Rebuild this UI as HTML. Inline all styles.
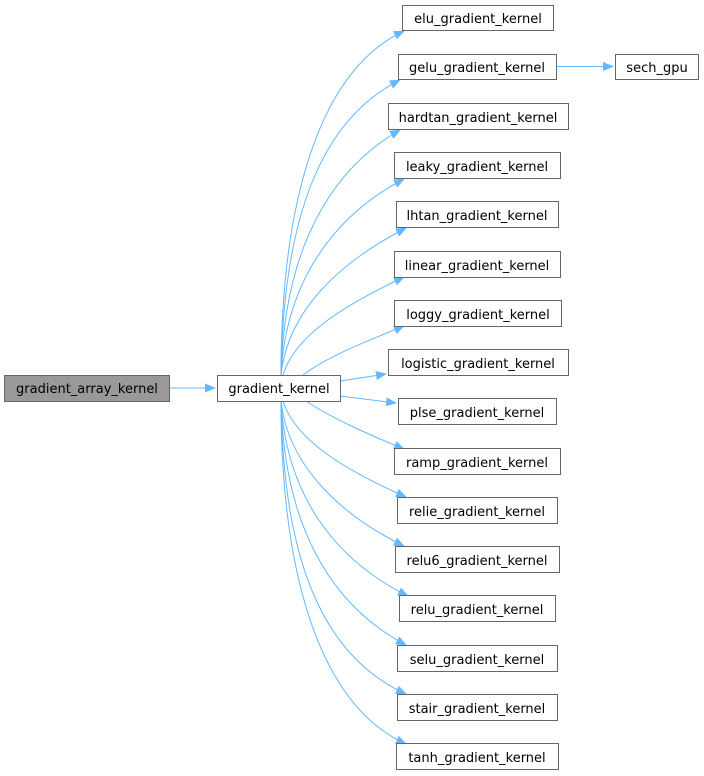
<!DOCTYPE html>
<html><head><meta charset="utf-8"><style>
html,body{margin:0;padding:0;background:#fff;width:704px;height:776px;overflow:hidden}
text{font-family:"DejaVu Sans","Liberation Sans",sans-serif;font-size:13px;fill:#000}
</style></head><body>
<svg width="704" height="776" viewBox="0 0 704 776" xmlns="http://www.w3.org/2000/svg">
<defs><marker id="a" markerWidth="11" markerHeight="9" refX="10" refY="4.5" orient="auto" markerUnits="userSpaceOnUse"><path d="M0,0 L11,4.5 L0,9 Z" fill="#63b8ff"/></marker></defs>
<g fill="none" stroke="#63b8ff" stroke-width="1">
<path d="M169,388 L215,388" marker-end="url(#a)"/>
<path d="M556,66.5 L613,66.5" marker-end="url(#a)"/>
<path d="M281,375 C281,200 320,70 404,31" marker-end="url(#a)"/>
<path d="M281,375 C283,220 320,120 400,80" marker-end="url(#a)"/>
<path d="M281,375 C284,250 330,170 400,130" marker-end="url(#a)"/>
<path d="M281,375 C286,280 335,215 404,179" marker-end="url(#a)"/>
<path d="M281,375 C288,310 340,262 406,228" marker-end="url(#a)"/>
<path d="M283,375 C295,335 345,305 404,277" marker-end="url(#a)"/>
<path d="M303,375 C330,355 370,340 404,326" marker-end="url(#a)"/>
<path d="M340,381 L386,374" marker-end="url(#a)"/>
<path d="M340,396 L396,403" marker-end="url(#a)"/>
<path d="M306,401 C335,420 370,435 404,449" marker-end="url(#a)"/>
<path d="M283,401 C295,440 345,470 406,497" marker-end="url(#a)"/>
<path d="M281,401 C288,465 340,515 404,546" marker-end="url(#a)"/>
<path d="M281,401 C286,495 335,560 408,596" marker-end="url(#a)"/>
<path d="M281,401 C284,525 330,605 406,645" marker-end="url(#a)"/>
<path d="M281,401 C283,555 320,655 406,694" marker-end="url(#a)"/>
<path d="M281,401 C281,575 320,705 406,744" marker-end="url(#a)"/>
</g>
<g stroke="#666" stroke-width="1">
<rect x="4.5" y="375.5" width="165" height="26" fill="#999"/>
<rect x="217.5" y="375.5" width="123" height="26" fill="#fff"/>
<rect x="615.5" y="54.5" width="83" height="25" fill="#fff"/>
<g fill="#fff">
<rect x="402.5" y="5.5" width="151" height="25"/>
<rect x="398.5" y="54.5" width="158" height="25"/>
<rect x="388.5" y="103.5" width="180" height="26"/>
<rect x="394.5" y="152.5" width="166" height="26"/>
<rect x="396.5" y="201.5" width="162" height="26"/>
<rect x="394.5" y="251.5" width="166" height="26"/>
<rect x="394.5" y="300.5" width="167" height="26"/>
<rect x="388.5" y="349.5" width="180" height="26"/>
<rect x="398.5" y="398.5" width="158" height="26"/>
<rect x="394.5" y="448.5" width="166" height="26"/>
<rect x="397.5" y="497.5" width="160" height="26"/>
<rect x="395.5" y="546.5" width="164" height="26"/>
<rect x="399.5" y="595.5" width="156" height="26"/>
<rect x="397.5" y="645.5" width="160" height="26"/>
<rect x="397.5" y="694.5" width="160" height="26"/>
<rect x="396.5" y="743.5" width="162" height="26"/>
</g></g>
<g text-anchor="middle">
<text x="87" y="393">gradient_array_kernel</text>
<text x="279" y="393">gradient_kernel</text>
<text x="657" y="72">sech_gpu</text>
<text x="478" y="23">elu_gradient_kernel</text>
<text x="477" y="72">gelu_gradient_kernel</text>
<text x="478" y="122">hardtan_gradient_kernel</text>
<text x="477" y="171">leaky_gradient_kernel</text>
<text x="477" y="220">lhtan_gradient_kernel</text>
<text x="477" y="270">linear_gradient_kernel</text>
<text x="478" y="319">loggy_gradient_kernel</text>
<text x="478" y="368">logistic_gradient_kernel</text>
<text x="477" y="417">plse_gradient_kernel</text>
<text x="477" y="467">ramp_gradient_kernel</text>
<text x="477" y="516">relie_gradient_kernel</text>
<text x="477" y="565">relu6_gradient_kernel</text>
<text x="477" y="614">relu_gradient_kernel</text>
<text x="477" y="664">selu_gradient_kernel</text>
<text x="477" y="713">stair_gradient_kernel</text>
<text x="477" y="762">tanh_gradient_kernel</text>
</g>
</svg>
</body></html>
